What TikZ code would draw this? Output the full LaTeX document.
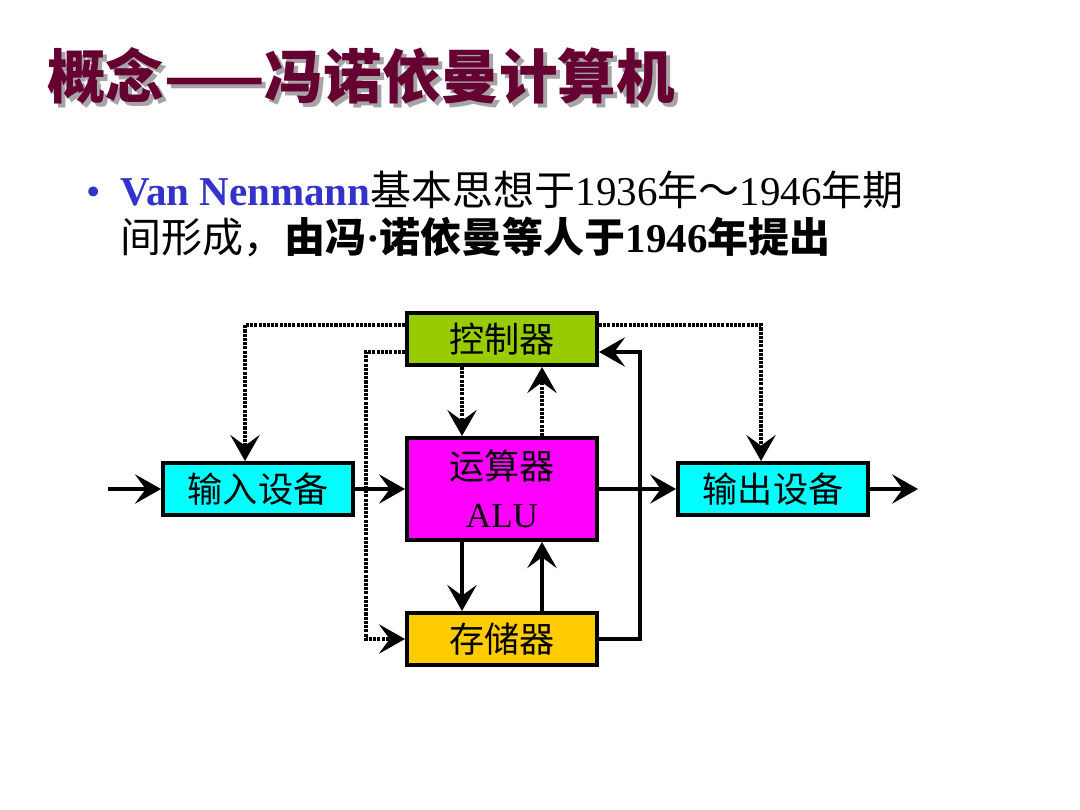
\documentclass[tikz,border=0pt]{standalone}
\usepackage{fontspec}
\setmainfont{Liberation Serif}
\newfontfamily\cjk{Noto Sans CJK SC}
\usetikzlibrary{positioning,arrows.meta}

\definecolor{titlered}{RGB}{102,0,51}
\definecolor{shadowgray}{RGB}{165,165,165}
\definecolor{nblue}{RGB}{51,51,204}
\definecolor{ctrlgreen}{RGB}{153,204,0}
\definecolor{alumag}{RGB}{255,0,255}
\definecolor{iocyan}{RGB}{0,255,255}
\definecolor{memyellow}{RGB}{255,204,0}

\begin{document}
\begin{tikzpicture}[
    x=0.03cm, y=-0.03cm,
    unit/.style={draw, line width=3.4pt, minimum width=5.7cm, minimum height=1.56cm, inner sep=0pt, align=center, font=\cjk\fontsize{30}{41}\selectfont},
    flow/.style={-{Stealth[length=0.78cm, width=0.88cm, inset=0.32cm]}, line width=3.2pt},
    ctl/.style={flow, dash pattern=on 2.6pt off 1pt},
    titletext/.style={anchor=west, inner sep=0pt, font=\cjk\bfseries\fontsize{50}{58}\selectfont},
    bodytext/.style={anchor=base west, inner sep=0pt, font=\fontsize{35}{40}\selectfont}
]
\path[use as bounding box, fill=white] (0,0) rectangle (1080,810);

% Title
\node[titletext, text=shadowgray] (titleshadow) at (51,80) {概念——冯诺依曼计算机};
\node[titletext, text=titlered] (title) at (47,76) {概念——冯诺依曼计算机};

% Bullet text
\node[bodytext, text=nblue] (dot) at (86,205) {•};
\node[bodytext] (line1) at (120,205) {\textbf{\color{nblue}Van Nenmann}{\cjk 基本思想于}1936{\cjk 年～}1946{\cjk 年期}};
\node[bodytext] (line2) at (120,252) {{\cjk 间形成，}\textbf{{\cjk 由冯}·{\cjk 诺依曼等人于}1946{\cjk 年提出}}};

% Units
\node[unit, fill=ctrlgreen] (ctrl) at (502,339) {控制器};
\node[unit, fill=alumag, minimum height=3.06cm] (alu) at (502,489) {运算器\\{\rmfamily ALU}};
\node[unit, fill=iocyan] (in) at (258,489) {输入设备};
\node[unit, fill=iocyan] (out) at (773,489) {输出设备};
\node[unit, fill=memyellow] (store) at (502,639) {存储器};

% Data paths
\coordinate (src) at (108,489);
\coordinate (sink) at (918,489);
\coordinate (busR) at (640,352);
\draw[flow] (src) -- (in);
\draw[flow] (in) -- (alu);
\draw[flow] (alu) -- (out);
\draw[flow] (out) -- (sink);
\draw[flow] ([xshift=-1.2cm]alu.south) -- ([xshift=-1.2cm]store.north);
\draw[flow] ([xshift=1.2cm]store.north) -- ([xshift=1.2cm]alu.south);
\draw[flow] (store.east) -| (busR) -- (ctrl.east |- busR);

% Control signals
\draw[ctl] (ctrl.west |- 0,325) -| ([xshift=-0.39cm]in.north);
\draw[ctl] (ctrl.east |- 0,325) -| ([xshift=-0.36cm]out.north);
\draw[ctl] (ctrl.west |- 0,352) -| ([xshift=-1.17cm]store.west) -- (store.west);
\draw[ctl] ([xshift=-1.2cm]ctrl.south) -- ([xshift=-1.2cm]alu.north);
\draw[ctl] ([xshift=1.2cm]alu.north) -- ([xshift=1.2cm]ctrl.south);
\end{tikzpicture}
\end{document}
